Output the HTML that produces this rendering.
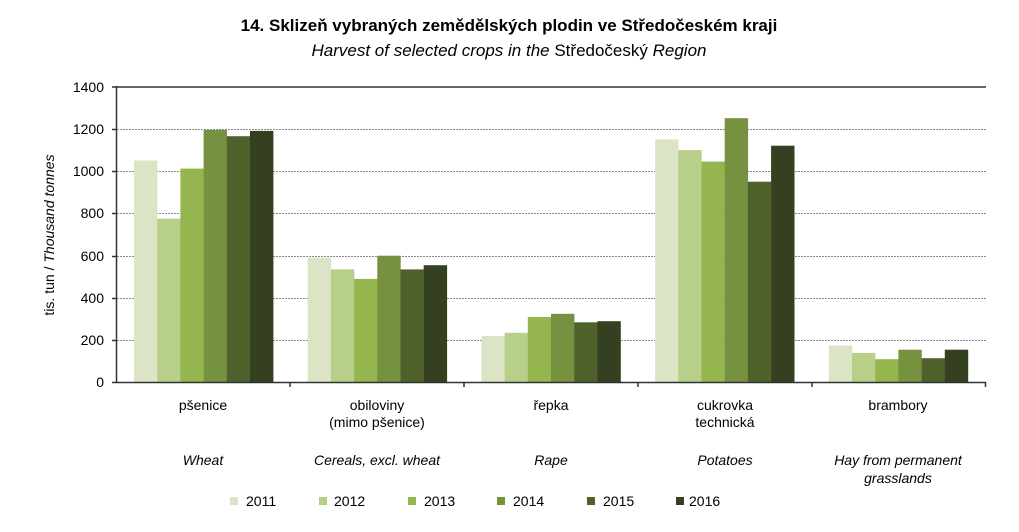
<!DOCTYPE html>
<html><head><meta charset="utf-8"><style>
body{margin:0;background:#fff}
svg{display:block;font-family:"Liberation Sans",Arial,sans-serif}
</style></head><body>
<svg width="1019" height="532" viewBox="0 0 1019 532" xmlns="http://www.w3.org/2000/svg">
<text x="509" y="31" text-anchor="middle" font-size="17" font-weight="bold" fill="#000">14. Sklizeň vybraných zemědělských plodin ve Středočeském kraji</text>
<text x="509" y="56" text-anchor="middle" font-size="17" fill="#000"><tspan font-style="italic">Harvest of selected crops in the </tspan>Středočeský<tspan font-style="italic"> Region</tspan></text>
<g stroke="#888" stroke-width="1" stroke-dasharray="2,1">
<line x1="117" x2="986" y1="129.5" y2="129.5"/>
<line x1="117" x2="986" y1="171.5" y2="171.5"/>
<line x1="117" x2="986" y1="213.5" y2="213.5"/>
<line x1="117" x2="986" y1="256.5" y2="256.5"/>
<line x1="117" x2="986" y1="298.5" y2="298.5"/>
<line x1="117" x2="986" y1="340.5" y2="340.5"/>
</g>
<line x1="117" x2="986" y1="87" y2="87" stroke="#333" stroke-width="1.5"/>
<g>
<rect x="134" y="160.5" width="23.4" height="222" fill="#dbe5c5"/>
<rect x="157.2" y="218.7" width="23.4" height="163.8" fill="#b8cf8a"/>
<rect x="180.4" y="168.6" width="23.4" height="213.9" fill="#95b54e"/>
<rect x="203.6" y="129.9" width="23.4" height="252.6" fill="#769140"/>
<rect x="226.8" y="136.2" width="23.4" height="246.3" fill="#4f622b"/>
<rect x="250" y="130.9" width="23.4" height="251.6" fill="#344020"/>

<rect x="307.7" y="257.8" width="23.4" height="124.7" fill="#dbe5c5"/>
<rect x="330.9" y="269.4" width="23.4" height="113.1" fill="#b8cf8a"/>
<rect x="354.1" y="278.9" width="23.4" height="103.6" fill="#95b54e"/>
<rect x="377.3" y="255.7" width="23.4" height="126.8" fill="#769140"/>
<rect x="400.5" y="269.4" width="23.4" height="113.1" fill="#4f622b"/>
<rect x="423.7" y="265.2" width="23.4" height="117.3" fill="#344020"/>

<rect x="481.4" y="336" width="23.4" height="46.5" fill="#dbe5c5"/>
<rect x="504.6" y="332.8" width="23.4" height="49.7" fill="#b8cf8a"/>
<rect x="527.8" y="317" width="23.4" height="65.5" fill="#95b54e"/>
<rect x="551" y="313.8" width="23.4" height="68.7" fill="#769140"/>
<rect x="574.2" y="322.3" width="23.4" height="60.2" fill="#4f622b"/>
<rect x="597.4" y="321.2" width="23.4" height="61.3" fill="#344020"/>

<rect x="655.1" y="139.4" width="23.4" height="243.1" fill="#dbe5c5"/>
<rect x="678.3" y="150" width="23.4" height="232.5" fill="#b8cf8a"/>
<rect x="701.5" y="161.6" width="23.4" height="220.9" fill="#95b54e"/>
<rect x="724.7" y="118.2" width="23.4" height="264.3" fill="#769140"/>
<rect x="747.9" y="181.7" width="23.4" height="200.8" fill="#4f622b"/>
<rect x="771.1" y="145.7" width="23.4" height="236.8" fill="#344020"/>

<rect x="828.8" y="345.5" width="23.4" height="37" fill="#dbe5c5"/>
<rect x="852" y="352.9" width="23.4" height="29.6" fill="#b8cf8a"/>
<rect x="875.2" y="359.2" width="23.4" height="23.3" fill="#95b54e"/>
<rect x="898.4" y="349.7" width="23.4" height="32.8" fill="#769140"/>
<rect x="921.6" y="358.2" width="23.4" height="24.3" fill="#4f622b"/>
<rect x="944.8" y="349.7" width="23.4" height="32.8" fill="#344020"/>
</g>
<g stroke="#333" stroke-width="1.5">
<line x1="116.5" x2="116.5" y1="86" y2="383"/>
<line x1="116" x2="986" y1="382.5" y2="382.5"/>
<line x1="112" x2="116" y1="87" y2="87"/><line x1="112" x2="116" y1="129.5" y2="129.5"/>
<line x1="112" x2="116" y1="171.5" y2="171.5"/><line x1="112" x2="116" y1="213.5" y2="213.5"/>
<line x1="112" x2="116" y1="256.5" y2="256.5"/><line x1="112" x2="116" y1="298.5" y2="298.5"/>
<line x1="112" x2="116" y1="340.5" y2="340.5"/><line x1="112" x2="116" y1="382.5" y2="382.5"/>
<line x1="290" x2="290" y1="382" y2="387"/><line x1="464" x2="464" y1="382" y2="387"/>
<line x1="638" x2="638" y1="382" y2="387"/><line x1="812" x2="812" y1="382" y2="387"/>
<line x1="985.5" x2="985.5" y1="382" y2="387"/>
</g>
<g font-size="14" fill="#000" text-anchor="end">
<text x="104" y="92">1400</text><text x="104" y="134">1200</text><text x="104" y="176">1000</text>
<text x="104" y="218">800</text><text x="104" y="261">600</text><text x="104" y="303">400</text>
<text x="104" y="345">200</text><text x="104" y="387">0</text>
</g>
<text transform="translate(54,235) rotate(-90)" text-anchor="middle" font-size="14">tis. tun / <tspan font-style="italic">Thousand tonnes</tspan></text>
<g font-size="14" text-anchor="middle">
<text x="203" y="410">pšenice</text>
<text x="377" y="410">obiloviny</text><text x="377" y="427">(mimo pšenice)</text>
<text x="551" y="410">řepka</text>
<text x="725" y="410">cukrovka</text><text x="725" y="427">technická</text>
<text x="898" y="410">brambory</text>
<g font-style="italic">
<text x="203" y="465">Wheat</text>
<text x="377" y="465">Cereals, excl. wheat</text>
<text x="551" y="465">Rape</text>
<text x="725" y="465">Potatoes</text>
<text x="898" y="465">Hay from permanent</text><text x="898" y="483">grasslands</text>
</g>
</g>
<g font-size="14">
<rect x="230" y="497" width="8" height="8" fill="#dbe5c5"/><text x="246" y="506">2011</text>
<rect x="319" y="497" width="8" height="8" fill="#b8cf8a"/><text x="334" y="506">2012</text>
<rect x="408" y="497" width="8" height="8" fill="#95b54e"/><text x="424" y="506">2013</text>
<rect x="497" y="497" width="8" height="8" fill="#769140"/><text x="513" y="506">2014</text>
<rect x="587" y="497" width="8" height="8" fill="#4f622b"/><text x="603" y="506">2015</text>
<rect x="676" y="497" width="8" height="8" fill="#344020"/><text x="689" y="506">2016</text>
</g>
</svg>
</body></html>
